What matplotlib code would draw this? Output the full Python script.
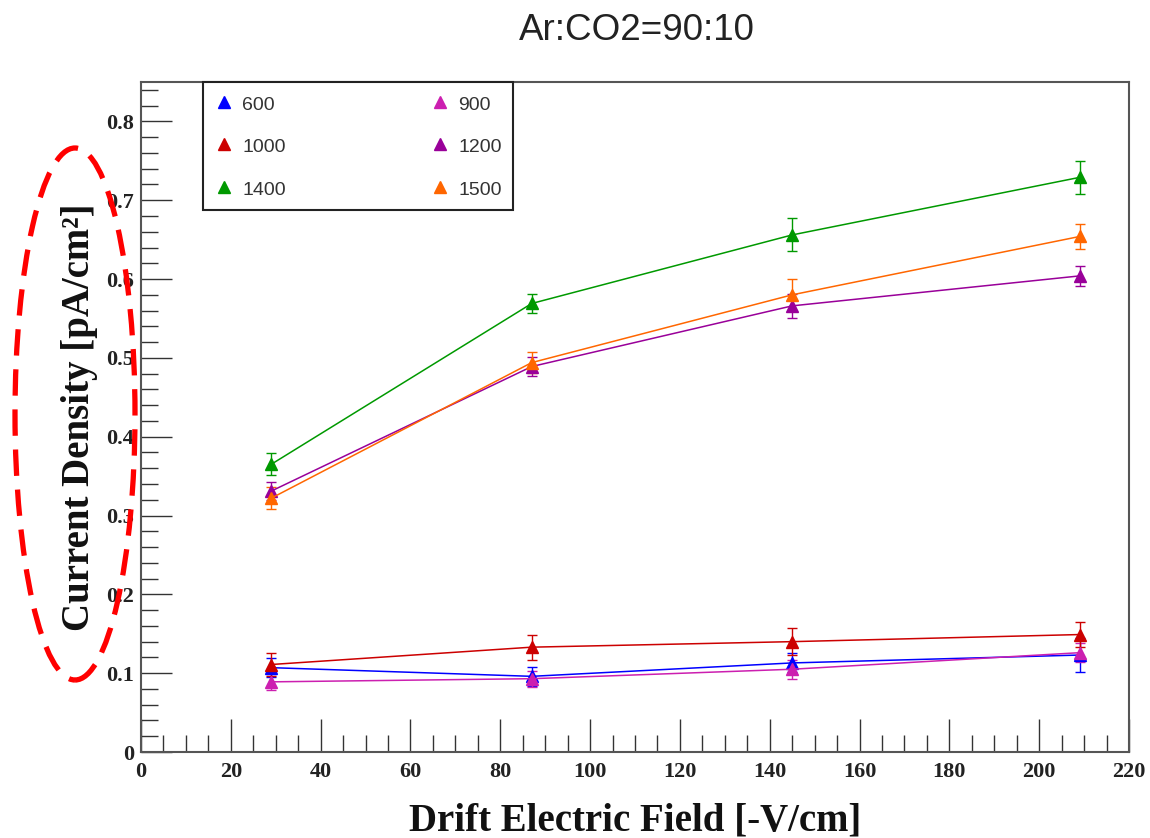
import matplotlib
matplotlib.use("Agg")
import matplotlib.pyplot as plt
from matplotlib.patches import Ellipse
from matplotlib.lines import Line2D
from matplotlib.ticker import MultipleLocator

# ---- data ----
field = [29, 87, 145, 209]
labels = ["600", "900", "1000", "1200", "1400", "1500"]
v600 = [0.107, 0.096, 0.113, 0.123]
e600 = [0.012, 0.012, 0.012, 0.022]
v900 = [0.089, 0.093, 0.105, 0.126]
e900 = [0.010, 0.010, 0.012, 0.012]
v1000 = [0.111, 0.133, 0.140, 0.149]
e1000 = [0.015, 0.016, 0.017, 0.016]
v1200 = [0.331, 0.489, 0.566, 0.604]
e1200 = [0.011, 0.012, 0.015, 0.013]
v1400 = [0.365, 0.569, 0.656, 0.729]
e1400 = [0.014, 0.012, 0.021, 0.021]
v1500 = [0.322, 0.494, 0.580, 0.654]
e1500 = [0.014, 0.013, 0.020, 0.016]
xticks = [0, 20, 40, 60, 80, 100, 120, 140, 160, 180, 200, 220]
yticks = [0, 0.1, 0.2, 0.3, 0.4, 0.5, 0.6, 0.7, 0.8]

colors = {"600": "#0000ff", "900": "#cc1fb0", "1000": "#cc0000",
          "1200": "#990099", "1400": "#009900", "1500": "#ff6600"}
series = [
    ("600", v600, e600),
    ("900", v900, e900),
    ("1000", v1000, e1000),
    ("1200", v1200, e1200),
    ("1400", v1400, e1400),
    ("1500", v1500, e1500),
]

W, H = 1150, 838
fig = plt.figure(figsize=(W / 100, H / 100), dpi=100)
L, R, B, T = 141, 1129, 752, 82
ax = fig.add_axes([L / W, 1 - B / H, (R - L) / W, (B - T) / H])

for name, v, e in series:
    ax.errorbar(field, v, yerr=e, color=colors[name], marker="^", markersize=9,
                linewidth=1.1, elinewidth=1.0, capsize=3.8, capthick=1.0,
                label=name)

ax.set_xlim(0, 220)
ax.set_ylim(0, 0.85)
ax.set_xticks(xticks)
ax.set_yticks(yticks)
ax.set_yticklabels(["0" if t == 0 else f"{t:.1f}" for t in yticks])
ax.xaxis.set_minor_locator(MultipleLocator(5))
ax.yaxis.set_minor_locator(MultipleLocator(0.02))

serif = "Liberation Serif"
sans = "Liberation Sans"
spine_c = "#555555"
for s in ax.spines.values():
    s.set_color(spine_c)
    s.set_linewidth(1.5)
ax.tick_params(axis="both", which="both", direction="in", color="#333333",
               width=1.0, top=False, right=False)
ax.tick_params(axis="x", which="major", length=24, pad=7)
ax.tick_params(axis="x", which="minor", length=12)
ax.tick_params(axis="y", which="major", length=22, pad=5)
ax.tick_params(axis="y", which="minor", length=12)
for lab in ax.get_xticklabels() + ax.get_yticklabels():
    lab.set_fontfamily(serif)
    lab.set_fontweight("bold")
    lab.set_fontsize(16)
    lab.set_color("#222222")

ax.set_xlabel("Drift Electric Field [-V/cm]", fontfamily=serif,
              fontweight="bold", fontsize=28, color="#111111")
ax.xaxis.set_label_coords(0.5, -0.076)
ax.set_ylabel("Current Density [pA/cm²]", fontfamily=serif,
              fontweight="bold", fontsize=28, color="#111111")
ax.yaxis.set_label_coords(-0.044, 0.5)

fig.text(637 / W, 1 - 31 / H, "Ar:CO2=90:10", fontfamily=sans, fontsize=26.5,
         ha="center", va="center", color="#222222")

order = ["600", "1000", "1400", "900", "1200", "1500"]
proxies = [Line2D([], [], color=colors[k], marker="^", markersize=9,
                  linestyle="none") for k in order]
x0 = (203 - L) / (R - L)
x1 = (513 - L) / (R - L)
leg = ax.legend(proxies, order, ncol=2, loc="upper left",
                bbox_to_anchor=(x0, 0, x1 - x0, 1.0), mode="expand",
                borderaxespad=0, prop={"family": sans, "size": 14},
                fancybox=False, framealpha=1, edgecolor="#222222",
                handlelength=1.0, handleheight=1.2, handletextpad=0.43,
                labelspacing=1.13, borderpad=0.58, numpoints=1)
leg.get_frame().set_linewidth(1.5)
for t in leg.get_texts():
    t.set_color("#333333")

ell = Ellipse((75 / W, 1 - 414 / H), 120 / W, 532 / H, transform=fig.transFigure,
              fill=False, edgecolor="#ff0000", linewidth=3.8,
              linestyle=(0, (5, 2.6)), clip_on=False)
fig.patches.append(ell)

fig.savefig("out.png", dpi=100)
